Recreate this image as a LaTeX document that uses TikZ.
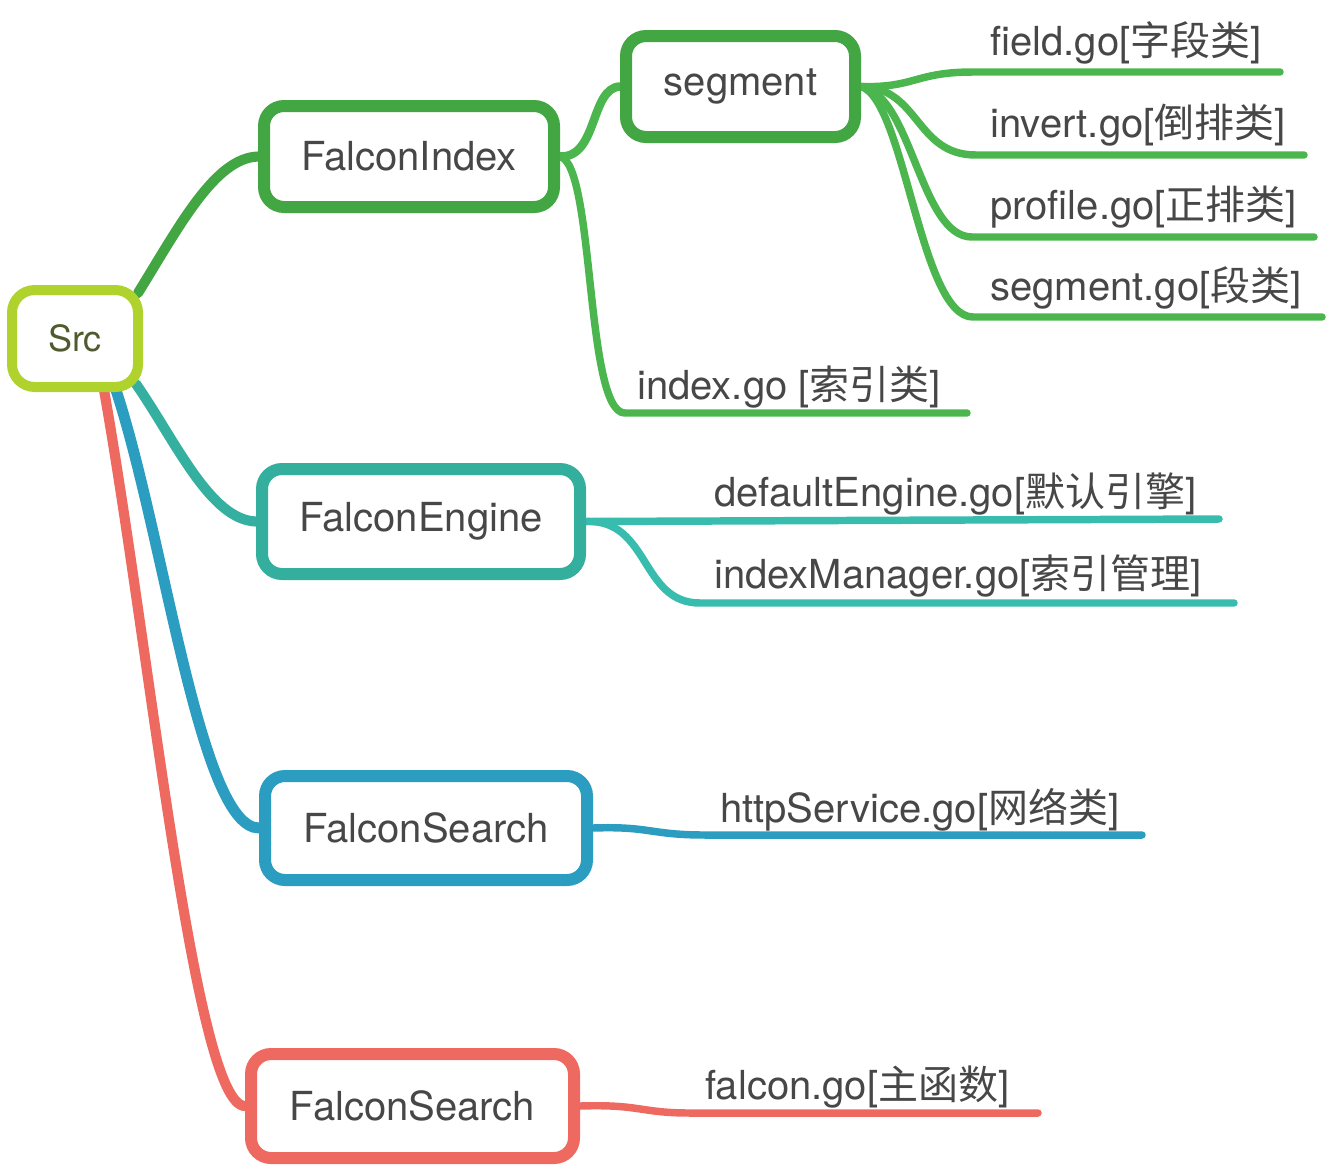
\documentclass[tikz,border=0pt]{standalone}
\usepackage{fontspec}
\setmainfont{TeX Gyre Heros}
\newfontfamily\cjk{Noto Sans CJK SC}
\definecolor{cLime}{HTML}{B0D22C}
\definecolor{cSrcTxt}{HTML}{4F5A2E}
\definecolor{cGreen}{HTML}{42A643}
\definecolor{cGreenL}{HTML}{4BB54E}
\definecolor{cTeal}{HTML}{34AE9D}
\definecolor{cTealL}{HTML}{38BCAE}
\definecolor{cBlue}{HTML}{2A9DC0}
\definecolor{cRed}{HTML}{EE6A60}
\definecolor{cTxt}{HTML}{474747}
\pgfdeclarelayer{bg}
\pgfsetlayers{bg,main}
\tikzset{
  box/.style={draw, fill=white, rounded corners=15pt, line width=9pt, text=cTxt,
    font=\fontsize{30}{36}\selectfont, inner sep=0pt},
  leaf/.style={anchor=base west, text=cTxt, font=\fontsize{30}{36}\selectfont, inner sep=0pt},
  main/.style={line width=7.6pt, line cap=round},
  sub/.style={line width=5.6pt, line cap=round},
}
\begin{document}
\begin{tikzpicture}[x=0.75pt,y=-0.75pt]
\useasboundingbox (0,0) rectangle (1330,1168);
% boxes
\node[box, draw=cLime, line width=7.5pt, rounded corners=17pt, text=cSrcTxt, font=\fontsize{27}{32}\selectfont,
  minimum width=94.5pt, minimum height=72.75pt] (src) at (75,338.5) {Src};
\node[box, draw=cGreen, minimum width=217.5pt, minimum height=75.75pt] (fi) at (409,156.5) {FalconIndex};
\node[box, draw=cGreen, minimum width=171.75pt, minimum height=75.75pt] (seg) at (740.5,86.5) {segment};
\node[box, draw=cTeal, minimum width=238.5pt, minimum height=78.75pt] (fe) at (421,521.5) {FalconEngine};
\node[box, draw=cBlue, minimum width=241.5pt, minimum height=78pt] (fs) at (426,828) {FalconSearch};
\node[box, draw=cRed, minimum width=242.25pt, minimum height=78pt] (fr) at (412.5,1106) {FalconSearch};
% leaf labels
\node[leaf] (lfield) at (990,55) {field.go[{\cjk 字段类}]};
\node[leaf] (linvert) at (990,137) {invert.go[{\cjk 倒排类}]};
\node[leaf] (lprofile) at (990,219) {profile.go[{\cjk 正排类}]};
\node[leaf] (lsegment) at (990,300) {segment.go[{\cjk 段类}]};
\node[leaf] (lindex) at (637,399) {index.go [{\cjk 索引类}]};
\node[leaf] (ldef) at (714,506) {defaultEngine.go[{\cjk 默认引擎}]};
\node[leaf] (lman) at (714,588) {indexManager.go[{\cjk 索引管理}]};
\node[leaf] (lhttp) at (720,822) {httpService.go[{\cjk 网络类}]};
\node[leaf] (lfal) at (705,1099) {falcon.go[{\cjk 主函数}]};
% coordinates
\coordinate (s1) at (138,293);
\coordinate (s2) at (136,384);
\coordinate (s3) at (116,390);
\coordinate (s4) at (104,390);
\coordinate (fieldS) at (973,72);   \coordinate (fieldE) at (1280,72);
\coordinate (invS) at (976,155);    \coordinate (invE) at (1304,155);
\coordinate (proS) at (972,237);    \coordinate (proE) at (1314,237);
\coordinate (sgS) at (973,317);     \coordinate (sgE) at (1322,317);
\coordinate (idxS) at (625,413);    \coordinate (idxE) at (967,413);
\coordinate (defE) at (1219,519);
\coordinate (manS) at (700,603);    \coordinate (manE) at (1234,603);
\coordinate (httpS) at (705,835);   \coordinate (httpE) at (1142,835);
\coordinate (falS) at (690,1113);   \coordinate (falE) at (1038,1113);
\begin{pgfonlayer}{bg}
% main branches
\draw[main, cGreen] (s1) .. controls (180,225) and (215,158) .. (fi.west);
\draw[main, cTeal!85!cTealL] (s2) .. controls (175,440) and (210,520) .. (fe.west);
\draw[main, cBlue, line width=8.2pt] (s3) .. controls (165,540) and (200,828) .. (fs.west);
\draw[main, cRed] (s4) .. controls (150,650) and (195,1106) .. (fr.west);
% FalconIndex children
\draw[main, cGreenL, line width=6.4pt] (fi.east) .. controls (598,158) and (590,88) .. (seg.west);
\draw[sub, cGreenL] (fi.east) .. controls (595,165) and (585,413) .. (idxS) -- (idxE);
% segment children
\draw[sub, cGreenL] (seg.east) .. controls (915,88) and (915,72) .. (fieldS) -- (fieldE);
\draw[sub, cGreenL] (seg.east) .. controls (920,88) and (915,155) .. (invS) -- (invE);
\draw[sub, cGreenL] (seg.east) .. controls (912,95) and (920,237) .. (proS) -- (proE);
\draw[sub, cGreenL] (seg.east) .. controls (905,100) and (920,317) .. (sgS) -- (sgE);
% FalconEngine children
\draw[sub, cTealL] (fe.east) -- (defE);
\draw[sub, cTealL] (fe.east) .. controls (650,519) and (640,603) .. (manS) -- (manE);
% FalconSearch children
\draw[sub, cBlue] (fs.east) .. controls (650,826) and (650,835) .. (httpS) -- (httpE);
\draw[sub, cRed] (fr.east) .. controls (640,1104) and (640,1113) .. (falS) -- (falE);
\end{pgfonlayer}
\end{tikzpicture}
\end{document}
